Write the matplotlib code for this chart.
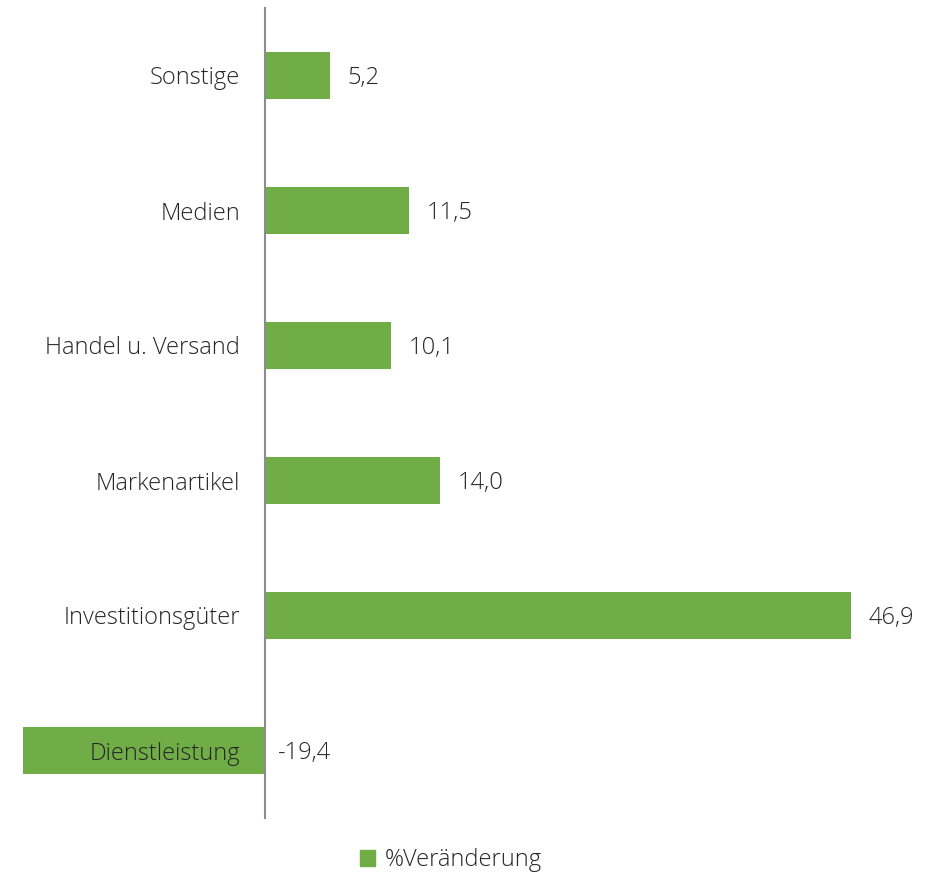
import matplotlib.pyplot as plt
from matplotlib.patches import Patch

plt.rcParams['font.family'] = ['Open Sans', 'DejaVu Sans']

# Daten
kategorien = ["Sonstige", "Medien", "Handel u. Versand", "Markenartikel",
              "Investitionsgüter", "Dienstleistung"]
werte = [5.2, 11.5, 10.1, 14.0, 46.9, -19.4]
serie = "%Veränderung"

gruen = "#70ad47"
textfarbe = "#262626"
groesse = 17

fig = plt.figure(figsize=(9.48, 8.75), dpi=100)
# Achse so platziert, dass 0 bei x=265px liegt
ax = fig.add_axes([0, 1 - 818 / 875, 1, 810 / 875])

pos = list(range(len(kategorien)))
ax.barh(pos, werte, height=0.35, color=gruen, zorder=1)

ax.set_xlim(-265 / 12.5, (948 - 265) / 12.5)
ax.set_ylim(len(kategorien) - 0.5, -0.5)

for s in ["top", "right", "bottom"]:
    ax.spines[s].set_visible(False)
ax.spines["left"].set_position(("data", 0))
ax.spines["left"].set_color("#8c8c8c")
ax.spines["left"].set_linewidth(1.5)

ax.set_xticks([])
ax.set_yticks(pos)
ax.set_yticklabels(kategorien, fontsize=groesse, fontweight="light", color=textfarbe)
ax.tick_params(axis="y", length=0, pad=18)

# Werte-Beschriftung
for p, w in zip(pos, werte):
    txt = f"{w:.1f}".replace(".", ",")
    x = w + 1.4 if w >= 0 else 1.0
    ax.text(x, p + 0.02, txt, va="center", ha="left", fontsize=groesse,
            fontweight="light", color=textfarbe)

fig.legend(handles=[Patch(color=gruen, label=serie)], loc="center",
           bbox_to_anchor=(451 / 948, 1 - 860 / 875), frameon=False,
           handlelength=0.65, handleheight=0.65, handletextpad=0.4,
           labelcolor=textfarbe, prop={"weight": "light", "size": groesse})

fig.savefig("out.png", dpi=100)
